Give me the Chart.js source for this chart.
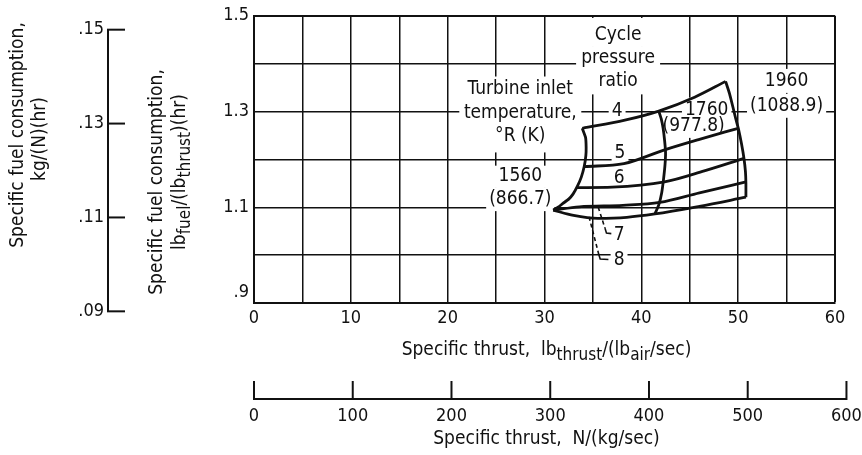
<!DOCTYPE html>
<html><head><meta charset="utf-8">
<script src="https://cdn.jsdelivr.net/npm/chart.js@4.4.1/dist/chart.umd.min.js"></script>
<style>html,body{margin:0;padding:0;background:#fff;}#wrap{width:862px;height:455px;}</style>
</head><body><div id="wrap"><canvas id="c" width="862" height="455"></canvas></div>
<script>
// ---- axis ticks ----
const thrustTicks = [0, 10, 20, 30, 40, 50, 60];
const thrustTickLabels = ['0', '10', '20', '30', '40', '50', '60'];
const sfcTicks = [0.9, 1.1, 1.3, 1.5];
const sfcTickLabels = ['.9', '1.1', '1.3', '1.5'];
const metricSfcTicks = [0.09, 0.11, 0.13, 0.15];
const metricSfcTickLabels = ['.09', '.11', '.13', '.15'];
const metricThrustTicks = [0, 100, 200, 300, 400, 500, 600];
const metricThrustTickLabels = ['0', '100', '200', '300', '400', '500', '600'];

// ---- constant cycle pressure ratio curves (specific thrust, SFC) ----
const ratio4X = [33.9, 38.3, 41.8, 45.5, 48.7];
const ratio4Y = [1.265, 1.282, 1.301, 1.330, 1.363];
const ratio5X = [34.1, 38.2, 42.4, 46.0, 50.0];
const ratio5Y = [1.185, 1.191, 1.220, 1.242, 1.265];
const ratio6X = [33.35, 37.0, 42.4, 46.5, 50.6];
const ratio6Y = [1.141, 1.142, 1.153, 1.176, 1.202];
const ratio7X = [30.9, 33.6, 38.1, 41.9, 46.0, 50.8];
const ratio7Y = [1.094, 1.101, 1.104, 1.110, 1.130, 1.153];
const ratio8X = [30.9, 33.0, 35.5, 38.5, 41.4, 46.0, 50.8];
const ratio8Y = [1.094, 1.083, 1.077, 1.079, 1.086, 1.102, 1.121];

// ---- constant turbine inlet temperature curves ----
const temp1560X = [33.9, 34.24, 34.3, 34.27, 34.1, 33.8, 33.4, 32.96, 32.5, 31.9, 31.4, 30.9];
const temp1560Y = [1.265, 1.246, 1.225, 1.208, 1.185, 1.163, 1.144, 1.128, 1.117, 1.108, 1.100, 1.094];
const temp1760X = [41.8, 42.05, 42.25, 42.4, 42.5, 42.45, 42.3, 42.1, 41.8, 41.4];
const temp1760Y = [1.301, 1.285, 1.265, 1.240, 1.215, 1.190, 1.160, 1.130, 1.105, 1.086];
const temp1960X = [48.7, 49.1, 49.45, 49.75, 50.05, 50.35, 50.6, 50.75, 50.8, 50.8];
const temp1960Y = [1.363, 1.338, 1.310, 1.285, 1.262, 1.232, 1.202, 1.175, 1.150, 1.121];

// ---- leader lines for ratio labels 7 and 8 ----
const lead7DashX = [35.55, 36.25];
const lead7DashY = [1.100, 1.056];
const lead7HookX = [36.25, 36.4, 36.9];
const lead7HookY = [1.056, 1.046, 1.045];
const lead8DashX = [34.6, 35.6];
const lead8DashY = [1.080, 1.002];
const lead8HookX = [35.6, 35.75, 36.6];
const lead8HookY = [1.002, 0.992, 0.991];

const LB_TO_KG_SFC = 0.101972;   // (lb/lbf-hr) -> (kg/N-hr)
const LB_TO_N_THRUST = 9.80665;  // lbf/(lb/s) -> N/(kg/s)

const FONT = "'DejaVu Sans Condensed','Liberation Sans Narrow','Liberation Sans',sans-serif";
const INK = '#111';

function pts(xs, ys) { return xs.map((x, i) => ({ x: x, y: ys[i] })); }
function ratioCurve(xs, ys) {
  return { data: pts(xs, ys), showLine: true, borderColor: INK, borderWidth: 2.8,
           pointRadius: 0, cubicInterpolationMode: 'monotone', fill: false };
}
function tempCurve(xs, ys) {
  return { data: pts(xs, ys), showLine: true, borderColor: INK, borderWidth: 2.8,
           pointRadius: 0, tension: 0.15, fill: false };
}
function leader(xs, ys, dashed) {
  return { data: pts(xs, ys), showLine: true, borderColor: INK, borderWidth: 1.6,
           pointRadius: 0, tension: 0, fill: false, borderDash: dashed ? [4, 3] : [] };
}

// in-plot text labels (data coordinates) with white backing boxes
const annotations = [
  { t: 'Cycle', x: 37.6, y: 1.46, minW: 84, padTop: 7 },
  { t: 'pressure', x: 37.6, y: 1.411, minW: 84 },
  { t: 'ratio', x: 37.6, y: 1.363, minW: 84, padBottom: 3 },
  { t: '4', x: 37.5, y: 1.301 },
  { t: 'Turbine inlet', x: 27.5, y: 1.346, minW: 122, padTop: 3 },
  { t: 'temperature,', x: 27.5, y: 1.297, minW: 122 },
  { t: '°R (K)', x: 27.5, y: 1.248, minW: 122, padBottom: 6 },
  { t: '1560', x: 27.5, y: 1.166, minW: 66, padTop: 0 },
  { t: '(866.7)', x: 27.5, y: 1.117, minW: 66 },
  { t: '5', x: 37.8, y: 1.214 },
  { t: '6', x: 37.7, y: 1.162 },
  { t: '7', x: 37.7, y: 1.042 },
  { t: '8', x: 37.7, y: 0.990 },
  { t: '1760', x: 46.75, y: 1.304 },
  { t: '(977.8)', x: 45.4, y: 1.270 },
  { t: '1960', x: 55.0, y: 1.364 },
  { t: '(1088.9)', x: 55.0, y: 1.312 }
];

function drawRich(ctx, segs, cx, cy, size) {
  const subSize = Math.round(size * 0.88);
  let total = 0;
  const widths = segs.map(s => {
    ctx.font = (s.sub ? subSize : size) + 'px ' + FONT;
    const w = ctx.measureText(s.t).width;
    total += w; return w;
  });
  let x = cx - total / 2;
  ctx.textAlign = 'left';
  ctx.textBaseline = 'middle';
  segs.forEach((s, i) => {
    ctx.font = (s.sub ? subSize : size) + 'px ' + FONT;
    ctx.fillText(s.t, x, cy + (s.sub ? 6 : 0));
    x += widths[i];
  });
}

const labelPlugin = {
  id: 'labels',
  beforeDatasetsDraw(chart) {
    const ctx = chart.ctx, xs = chart.scales.x, ys = chart.scales.y;
    ctx.save();
    ctx.font = '19px ' + FONT;
    ctx.textAlign = 'center';
    ctx.textBaseline = 'middle';
    annotations.forEach(a => {
      const cx = xs.getPixelForValue(a.x), cy = ys.getPixelForValue(a.y);
      const w = Math.max(ctx.measureText(a.t).width + 6, a.minW || 0);
      const pt = a.padTop != null ? a.padTop : 2, pb = a.padBottom != null ? a.padBottom : 2;
      ctx.fillStyle = '#fff';
      ctx.fillRect(cx - w / 2, cy - 10 - pt, w, 20 + pt + pb);
    });
    ctx.fillStyle = INK;
    annotations.forEach(a => {
      ctx.fillText(a.t, xs.getPixelForValue(a.x), ys.getPixelForValue(a.y));
    });
    ctx.restore();
  },
  afterDraw(chart) {
    const ctx = chart.ctx, xs = chart.scales.x, ys = chart.scales.y;
    ctx.save();
    ctx.strokeStyle = INK; ctx.fillStyle = INK;
    // metric SFC axis
    const ax = 108;
    const yTop = ys.getPixelForValue(metricSfcTicks[metricSfcTicks.length - 1] / LB_TO_KG_SFC);
    const yBot = ys.getPixelForValue(metricSfcTicks[0] / LB_TO_KG_SFC);
    ctx.lineWidth = 2;
    ctx.beginPath(); ctx.moveTo(ax, yTop); ctx.lineTo(ax, yBot); ctx.stroke();
    ctx.font = '18px ' + FONT; ctx.textAlign = 'right'; ctx.textBaseline = 'middle';
    metricSfcTicks.forEach((v, i) => {
      const py = ys.getPixelForValue(v / LB_TO_KG_SFC);
      ctx.beginPath(); ctx.moveTo(ax - 1, py); ctx.lineTo(ax + 17, py); ctx.stroke();
      ctx.fillText(metricSfcTickLabels[i], ax - 4, py);
    });
    // metric thrust axis
    const ay = 399;
    const x0 = xs.getPixelForValue(metricThrustTicks[0] / LB_TO_N_THRUST);
    const x1 = xs.getPixelForValue(metricThrustTicks[metricThrustTicks.length - 1] / LB_TO_N_THRUST);
    ctx.beginPath(); ctx.moveTo(x0, ay); ctx.lineTo(x1, ay); ctx.stroke();
    ctx.textAlign = 'center';
    metricThrustTicks.forEach((v, i) => {
      const px = xs.getPixelForValue(v / LB_TO_N_THRUST);
      ctx.beginPath(); ctx.moveTo(px, ay + 1); ctx.lineTo(px, ay - 18); ctx.stroke();
      ctx.fillText(metricThrustTickLabels[i], px, 416);
    });
    // axis titles
    const cxPlot = (chart.chartArea.left + chart.chartArea.right) / 2;
    drawRich(ctx, [{ t: 'Specific thrust,  lb' }, { t: 'thrust', sub: true }, { t: '/(lb' }, { t: 'air', sub: true }, { t: '/sec)' }], cxPlot + 2, 350, 19);
    drawRich(ctx, [{ t: 'Specific thrust,  N/(kg/sec)' }], cxPlot + 2, 439, 19);
    // left titles (rotated)
    ctx.save(); ctx.translate(18, 135); ctx.rotate(-Math.PI / 2);
    drawRich(ctx, [{ t: 'Specific fuel consumption,' }], 0, 0, 19); ctx.restore();
    ctx.save(); ctx.translate(40, 139); ctx.rotate(-Math.PI / 2);
    drawRich(ctx, [{ t: 'kg/(N)(hr)' }], 0, 0, 19); ctx.restore();
    ctx.save(); ctx.translate(157, 182); ctx.rotate(-Math.PI / 2);
    drawRich(ctx, [{ t: 'Specific fuel consumption,' }], 0, 0, 19); ctx.restore();
    ctx.save(); ctx.translate(180, 172); ctx.rotate(-Math.PI / 2);
    drawRich(ctx, [{ t: 'lb' }, { t: 'fuel', sub: true }, { t: '/(lb' }, { t: 'thrust', sub: true }, { t: ')(hr)' }], 0, 0, 19); ctx.restore();
    ctx.restore();
  }
};

new Chart(document.getElementById('c'), {
  type: 'scatter',
  data: {
    datasets: [
      ratioCurve(ratio4X, ratio4Y), ratioCurve(ratio5X, ratio5Y), ratioCurve(ratio6X, ratio6Y),
      ratioCurve(ratio7X, ratio7Y), ratioCurve(ratio8X, ratio8Y),
      tempCurve(temp1560X, temp1560Y), tempCurve(temp1760X, temp1760Y), tempCurve(temp1960X, temp1960Y),
      leader(lead7DashX, lead7DashY, true), leader(lead7HookX, lead7HookY, false),
      leader(lead8DashX, lead8DashY, true), leader(lead8HookX, lead8HookY, false)
    ]
  },
  options: {
    responsive: false, animation: false, devicePixelRatio: 1,
    layout: { padding: { left: 0, right: 27, top: 14, bottom: 0 } },
    plugins: { legend: { display: false }, tooltip: { enabled: false } },
    scales: {
      x: {
        type: 'linear', min: 0, max: 60,
        afterFit: s => { s.height = 152; },
        grid: { color: INK, lineWidth: c => (c.tick && c.tick.value === 60 ? 2 : 1.5), drawTicks: false },
        border: { display: true, color: INK, width: 2 },
        ticks: {
          stepSize: 5, autoSkip: false, maxRotation: 0, padding: 5, color: INK,
          font: { family: FONT, size: 18 },
          callback: v => { const i = thrustTicks.indexOf(v); return i < 0 ? '' : thrustTickLabels[i]; }
        }
      },
      y: {
        type: 'linear', min: 0.9, max: 1.5,
        afterFit: s => { s.width = 254; },
        grid: { color: INK, lineWidth: c => (c.tick && Math.abs(c.tick.value - 1.5) < 1e-6 ? 2 : 1.5), drawTicks: false },
        border: { display: true, color: INK, width: 2 },
        ticks: {
          stepSize: 0.1, autoSkip: false, padding: 5, color: INK,
          font: { family: FONT, size: 18 },
          callback: v => {
            const i = sfcTicks.findIndex(t => Math.abs(t - v) < 1e-6);
            if (i < 0) return '';
            return i === 0 ? [sfcTickLabels[i], ''] : sfcTickLabels[i];
          }
        }
      }
    }
  },
  plugins: [labelPlugin]
});
</script></body></html>
